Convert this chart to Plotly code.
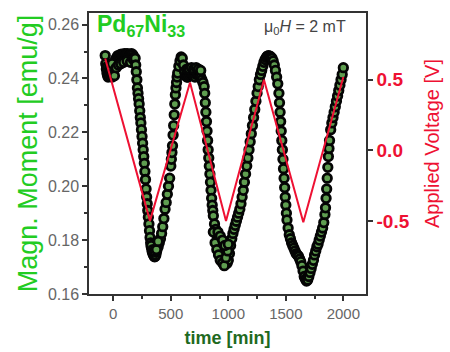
import plotly.graph_objects as go

# ---- data ----
time_min = [
    -70, -65, -60, -55, -50, -45, -40, -35, -30, -25, -20, -15, -10, -5, 0, 5, 10, 20, 30, 40,
    50, 60, 70, 80, 90, 100, 110, 120, 130, 140, 150, 160, 170, 180,
    -50, -30, -10, 10, 25, 45, 65, 90, 120, 150, 175,
    190, 195, 200, 205, 210, 215, 220, 225, 230, 235, 240, 245, 250, 255, 260, 265, 270, 275,
    280, 285, 290, 295, 300, 305, 310, 315, 320, 325, 330, 335, 340, 345, 350, 355, 360, 365,
    370, 375, 380, 390, 400, 410, 420, 430, 440, 450, 460, 470, 480, 490, 500, 505, 510, 515,
    520, 525, 530, 535, 540, 545, 550, 555, 560, 570, 580, 590, 600, 610, 620, 630, 640, 650,
    660, 670, 680, 690, 700, 710, 720, 730, 740, 750, 760,
    330, 345, 360, 375, 390, 640, 660, 680, 700, 720, 740, 760,
    770, 780, 790, 795, 800, 805, 810, 815, 820, 825, 830, 835, 840, 845, 850, 855, 860, 865,
    870, 880, 890, 900, 910, 920, 930, 940, 950, 960, 970, 980, 990, 1000, 1010, 1020, 1030,
    1040, 1050, 1060, 1070, 1080, 1090, 1100, 1110, 1120, 1130, 1140, 1150, 1160, 1170, 1180,
    1190, 1200, 1210, 1220, 1230, 1240, 1250, 1260, 1270, 1280, 1290, 1300, 1310, 1320, 1330,
    1340, 1350, 1360, 1370, 1380, 1390, 1400, 1410, 1420, 1430,
    870, 885, 900, 915, 930, 950, 965, 980, 995, 910, 930, 950, 970, 1000,
    1440, 1445, 1450, 1455, 1460, 1465, 1470, 1475, 1480, 1485, 1490, 1495, 1500, 1505, 1510,
    1520, 1530, 1540, 1550, 1560, 1570, 1580, 1590, 1600, 1610, 1620, 1630, 1640, 1650, 1660,
    1670, 1680, 1690, 1700, 1710, 1720, 1730, 1740, 1750, 1760, 1770, 1780, 1790, 1800, 1810,
    1820, 1830, 1840, 1845, 1850, 1855, 1860, 1865, 1870, 1875, 1880, 1890, 1900, 1910, 1920,
    1930, 1940, 1950, 1960, 1970, 1980, 1990, 2000,
]
moment = [
    0.2485, 0.2455, 0.2435, 0.2420, 0.2412, 0.2405, 0.2410, 0.2415, 0.2408, 0.2415, 0.2420, 0.2412, 0.2405, 0.2415, 0.2430, 0.2445, 0.2455, 0.2470, 0.2478, 0.2485,
    0.2482, 0.2488, 0.2490, 0.2485, 0.2490, 0.2492, 0.2488, 0.2492, 0.2490, 0.2485, 0.2490, 0.2492, 0.2488, 0.2480,
    0.2445, 0.2445, 0.2455, 0.2410, 0.2440, 0.2450, 0.2455, 0.2460, 0.2465, 0.2460, 0.2470,
    0.2475, 0.2450, 0.2425, 0.2395, 0.2365, 0.2345, 0.2325, 0.2305, 0.2280, 0.2255, 0.2235, 0.2210, 0.2185, 0.2160, 0.2135, 0.2110, 0.2085, 0.2055,
    0.2025, 0.1990, 0.1960, 0.1935, 0.1910, 0.1885, 0.1860, 0.1835, 0.1810, 0.1790, 0.1775, 0.1765, 0.1755, 0.1750, 0.1745, 0.1740, 0.1738, 0.1740,
    0.1745, 0.1755, 0.1765, 0.1775, 0.1790, 0.1805, 0.1825, 0.1850, 0.1880, 0.1915, 0.1940, 0.1970, 0.2000, 0.2030, 0.2075, 0.2100, 0.2125, 0.2150,
    0.2190, 0.2225, 0.2265, 0.2305, 0.2340, 0.2365, 0.2385, 0.2405, 0.2420, 0.2445, 0.2465, 0.2480, 0.2475, 0.2450, 0.2425, 0.2410, 0.2405, 0.2405,
    0.2410, 0.2415, 0.2420, 0.2415, 0.2410, 0.2405, 0.2415, 0.2420, 0.2415, 0.2410, 0.2405,
    0.1780, 0.1765, 0.1760, 0.1765, 0.1795, 0.2435, 0.2435, 0.2440, 0.2435, 0.2440, 0.2435, 0.2430,
    0.2395, 0.2385, 0.2370, 0.2345, 0.2310, 0.2275, 0.2240, 0.2205, 0.2170, 0.2135, 0.2105, 0.2075, 0.2045, 0.2015, 0.1985, 0.1955, 0.1930, 0.1910,
    0.1890, 0.1860, 0.1840, 0.1820, 0.1800, 0.1785, 0.1770, 0.1760, 0.1748, 0.1738, 0.1728, 0.1720, 0.1714, 0.1725, 0.1750, 0.1780, 0.1805,
    0.1825, 0.1840, 0.1855, 0.1870, 0.1885, 0.1900, 0.1915, 0.1935, 0.1960, 0.1985, 0.2015, 0.2045, 0.2075, 0.2105, 0.2135,
    0.2165, 0.2195, 0.2225, 0.2255, 0.2285, 0.2315, 0.2345, 0.2370, 0.2395, 0.2415, 0.2430, 0.2445, 0.2460, 0.2470, 0.2478,
    0.2483, 0.2485, 0.2483, 0.2480, 0.2475, 0.2465, 0.2450, 0.2430, 0.2405, 0.2380,
    0.1830, 0.1790, 0.1765, 0.1745, 0.1725, 0.1715, 0.1705, 0.1735, 0.1760, 0.1830, 0.1815, 0.1800, 0.1780, 0.1785,
    0.2345, 0.2310, 0.2275, 0.2240, 0.2205, 0.2170, 0.2135, 0.2100, 0.2065, 0.2030, 0.1995, 0.1960, 0.1930, 0.1900, 0.1875,
    0.1845, 0.1820, 0.1805, 0.1790, 0.1780, 0.1770, 0.1760, 0.1750, 0.1745, 0.1740, 0.1730, 0.1720, 0.1705, 0.1685, 0.1665,
    0.1655, 0.1648, 0.1652, 0.1665, 0.1680, 0.1695, 0.1710, 0.1725, 0.1745, 0.1760, 0.1775, 0.1785, 0.1800, 0.1815, 0.1830,
    0.1845, 0.1865, 0.1895, 0.1920, 0.1955, 0.1990, 0.2030, 0.2070, 0.2110, 0.2140, 0.2170, 0.2210, 0.2235, 0.2255, 0.2275,
    0.2295, 0.2315, 0.2335, 0.2355, 0.2375, 0.2395, 0.2415, 0.2440,
]
volt_time = [-70, 319, 667, 980, 1310, 1652, 2000]
voltage = [0.65, -0.50, 0.48, -0.50, 0.50, -0.51, 0.52]

x_ticks = [0, 500, 1000, 1500, 2000]
y_ticks = [0.16, 0.18, 0.20, 0.22, 0.24, 0.26]
v_ticks = [-0.5, 0.0, 0.5]
v_ticktext = ["-0.5", "0.0", "0.5"]

FONT = "Liberation Sans, Arial, sans-serif"
GREEN = "#22cc22"
RED = "#ee1133"
AXC = "#333333"

fig = go.Figure()
fig.add_trace(go.Scatter(
    x=time_min, y=moment, mode="markers", yaxis="y",
    marker=dict(symbol="circle", size=8.5, color="#5f9e50",
                line=dict(color="#050505", width=2.8)),
    showlegend=False, hoverinfo="skip"))
fig.add_trace(go.Scatter(
    x=volt_time, y=voltage, mode="lines", yaxis="y2",
    line=dict(color=RED, width=2), showlegend=False, hoverinfo="skip"))

fig.update_layout(
    width=450, height=352,
    margin=dict(l=89, r=84, t=13, b=58),
    paper_bgcolor="white", plot_bgcolor="white",
    font=dict(family=FONT),
    xaxis=dict(range=[-211, 2197], tickvals=x_ticks, ticks="outside", ticklen=5,
               tickwidth=1.5, tickcolor=AXC, showline=True, linecolor=AXC,
               linewidth=1.5, mirror=True, showgrid=False, zeroline=False,
               automargin=False,
               tickfont=dict(size=15, color="#666666"),
               minor=dict(dtick=250, tick0=0, ticks="outside", ticklen=3,
                          tickcolor=AXC, tickwidth=1.5),
               title=dict(text="time [min]", standoff=11,
                          font=dict(size=18, color="#1f6a1f", weight="bold"))),
    yaxis=dict(range=[0.16, 0.2643], tickvals=y_ticks, tickformat=".2f",
               ticks="outside", ticklen=5, tickwidth=1.5, tickcolor=AXC,
               showline=True, linecolor=AXC, linewidth=1.5, showgrid=False,
               zeroline=False, automargin=False,
               tickfont=dict(size=16, color="#666666"),
               minor=dict(dtick=0.01, tick0=0.16, ticks="outside", ticklen=3,
                          tickcolor=AXC, tickwidth=1.5),
               title=dict(text="Magn. Moment [emu/g]", standoff=2,
                          font=dict(size=27, color=GREEN))),
    yaxis2=dict(range=[-1.018, 0.973], overlaying="y", side="right",
                tickvals=v_ticks, ticktext=v_ticktext, ticks="outside",
                ticklen=5, tickwidth=1.5, tickcolor=AXC, showline=True,
                linecolor=AXC, linewidth=1.5, showgrid=False, zeroline=False,
                automargin=False,
                tickfont=dict(size=19, color=RED, weight="bold")),
)

fig.add_annotation(xref="paper", yref="paper", x=0.02, y=1.015,
                   xanchor="left", yanchor="top", showarrow=False,
                   text="Pd<sub>67</sub>Ni<sub>33</sub>",
                   font=dict(size=23, color=GREEN, weight="bold"))
fig.add_annotation(xref="paper", yref="paper", x=0.935, y=0.95,
                   xanchor="right", yanchor="middle", showarrow=False,
                   text="μ<sub>0</sub><i>H</i> = 2 mT",
                   font=dict(size=16, color="#444444"))
fig.add_annotation(xref="paper", yref="paper", x=1.238, y=0.537,
                   xanchor="center", yanchor="middle", showarrow=False,
                   textangle=-90, text="Applied Voltage [V]",
                   font=dict(size=20, color=RED))

fig.write_html("out.html")
